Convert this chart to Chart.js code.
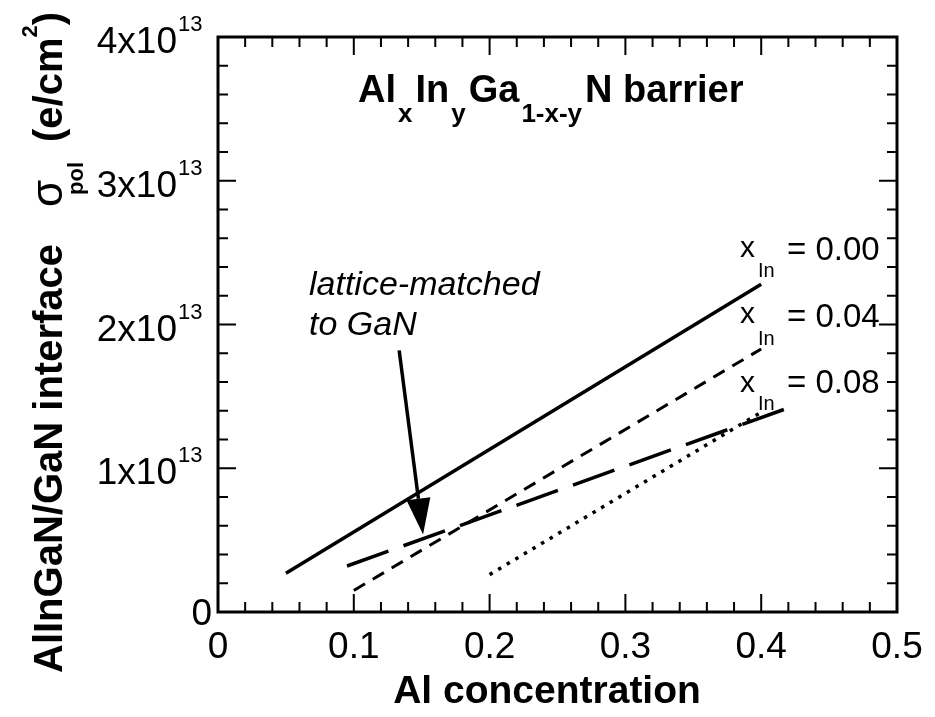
<!DOCTYPE html>
<html>
<head>
<meta charset="utf-8">
<script src="https://cdn.jsdelivr.net/npm/chart.js@4.4.0/dist/chart.umd.min.js"></script>
<style>
  body { margin: 0; background: #fff; }
</style>
</head>
<body>
<canvas id="polChart" width="935" height="717"></canvas>
<script>
// Al concentration / interface polarization charge
var alIn000 = [0.05, 0.40];
var sigmaIn000 = [0.27e13, 2.28e13];

var alIn004 = [0.10, 0.40];
var sigmaIn004 = [0.15e13, 1.83e13];

var alIn008 = [0.20, 0.40];
var sigmaIn008 = [0.26e13, 1.39e13];

var alLattice = [0.095, 0.42];
var sigmaLattice = [0.32e13, 1.42e13];

var xTickVals = [0, 0.1, 0.2, 0.3, 0.4, 0.5];
var xTickLabels = ['0', '0.1', '0.2', '0.3', '0.4', '0.5'];
var yTickVals = [0, 1e13, 2e13, 3e13, 4e13];
var yTickLabels = ['0', '1', '2', '3', '4'];

var FONT = '"Liberation Sans", Arial, Helvetica, sans-serif';

function pts(xs, ys) {
    return xs.map(function(x, i) { return {x: x, y: ys[i]}; });
}

// draw a row of text pieces one after another (sub/superscripts)
function drawRuns(ctx, x, y, runs) {
    runs.forEach(function(r) {
        x += r.gap || 0;
        ctx.font = r.font;
        ctx.fillText(r.t, x, y + (r.dy || 0));
        x += ctx.measureText(r.t).width;
    });
}

var framePlugin = {
    id: 'frame',
    afterDraw: function(chart) {
        var ctx = chart.ctx;
        var xs = chart.scales.x, ys = chart.scales.y;
        var a = chart.chartArea;
        ctx.save();
        ctx.strokeStyle = '#000';
        ctx.fillStyle = '#000';

        // ticks on all four sides, pointing in
        ctx.lineWidth = 2;
        ctx.beginPath();
        for (var i = 1; i < 25; i++) {
            var px = xs.getPixelForValue(i * 0.02);
            var len = i % 5 === 0 ? 18 : 10;
            ctx.moveTo(px, a.bottom); ctx.lineTo(px, a.bottom - len);
            ctx.moveTo(px, a.top); ctx.lineTo(px, a.top + len);
        }
        for (var j = 1; j < 20; j++) {
            var py = ys.getPixelForValue(j * 0.2e13);
            var l2 = j % 5 === 0 ? 18 : 10;
            ctx.moveTo(a.left, py); ctx.lineTo(a.left + l2, py);
            ctx.moveTo(a.right, py); ctx.lineTo(a.right - l2, py);
        }
        ctx.stroke();

        ctx.lineWidth = 3;
        ctx.strokeRect(a.left, a.top, a.right - a.left, a.bottom - a.top);

        // x tick labels
        ctx.font = '37px ' + FONT;
        ctx.textAlign = 'center';
        ctx.textBaseline = 'alphabetic';
        xTickVals.forEach(function(v, k) {
            ctx.fillText(xTickLabels[k], xs.getPixelForValue(v), 658);
        });

        // y tick labels  (n x10^13)
        yTickVals.forEach(function(v, k) {
            var py = ys.getPixelForValue(v);
            if (v === 0) {
                ctx.font = '37px ' + FONT;
                ctx.textAlign = 'right';
                ctx.fillText('0', a.left - 6, py + 13);
                return;
            }
            ctx.font = '37px ' + FONT;
            ctx.textAlign = 'right';
            ctx.fillText(yTickLabels[k] + 'x10', a.left - 41, py + 16);
            ctx.font = '22px ' + FONT;
            ctx.textAlign = 'left';
            ctx.fillText('13', a.left - 40, py - 6);
        });

        // axis titles
        ctx.textAlign = 'center';
        ctx.font = 'bold 39px ' + FONT;
        ctx.fillText('Al concentration', 547, 703);

        ctx.save();
        ctx.translate(62, 673);
        ctx.rotate(-Math.PI / 2);
        ctx.textAlign = 'left';
        ctx.font = 'bold 40px ' + FONT;
        ctx.fillText('AlInGaN/GaN interface', 0, 0);
        ctx.font = '44px ' + FONT;
        ctx.fillText('\u03c3', 466, 0);
        ctx.font = 'bold 22px ' + FONT;
        ctx.fillText('pol', 478, 21);
        drawRuns(ctx, 531, 0, [
            {t: '(e/cm', font: 'bold 40px ' + FONT},
            {t: '2', font: 'bold 22px ' + FONT, dy: -25},
            {t: ')', font: 'bold 40px ' + FONT}
        ]);
        ctx.restore();

        // title
        ctx.textAlign = 'left';
        var B = 'bold 38px ' + FONT, S = 'bold 26px ' + FONT;
        drawRuns(ctx, 358, 102, [
            {t: 'Al', font: B},
            {t: 'x', font: S, dy: 20, gap: 2},
            {t: 'In', font: B, gap: 3},
            {t: 'y', font: S, dy: 20, gap: 2},
            {t: 'Ga', font: B, gap: 3},
            {t: '1-x-y', font: S, dy: 20, gap: 2},
            {t: 'N barrier', font: B, gap: 3}
        ]);

        // x_In labels
        [['0.00', 257, 277, 260], ['0.04', 323, 345, 327], ['0.08', 392, 410, 393]].forEach(function(r) {
            ctx.font = '30px ' + FONT;
            ctx.fillText('x', 740, r[1]);
            ctx.font = '20px ' + FONT;
            ctx.fillText('In', 758, r[2]);
            ctx.font = '33px ' + FONT;
            ctx.fillText('= ' + r[0], 787, r[3]);
        });

        // lattice-matched note and arrow
        ctx.font = 'italic 34px ' + FONT;
        ctx.fillText('lattice-matched', 309, 295);
        ctx.fillText('to GaN', 309, 335);

        var x0 = xs.getPixelForValue(0.1334), y0 = ys.getPixelForValue(1.82e13);
        var x1 = xs.getPixelForValue(0.1510), y1 = ys.getPixelForValue(0.54e13);
        var ang = Math.atan2(y1 - y0, x1 - x0);
        var hl = 36, hw = 12;
        var bx = x1 - hl * Math.cos(ang), by = y1 - hl * Math.sin(ang);
        ctx.lineWidth = 3.5;
        ctx.beginPath();
        ctx.moveTo(x0, y0);
        ctx.lineTo(bx, by);
        ctx.stroke();
        ctx.beginPath();
        ctx.moveTo(x1, y1);
        ctx.lineTo(bx - hw * Math.sin(ang), by + hw * Math.cos(ang));
        ctx.lineTo(bx + hw * Math.sin(ang), by - hw * Math.cos(ang));
        ctx.closePath();
        ctx.fill();

        ctx.restore();
    }
};

var ctx = document.getElementById('polChart').getContext('2d');
var polChart = new Chart(ctx, {
    type: 'scatter',
    data: {
        datasets: [
            {label: 'x_In = 0.00', data: pts(alIn000, sigmaIn000), borderWidth: 3.5},
            {label: 'x_In = 0.04', data: pts(alIn004, sigmaIn004), borderWidth: 3, borderDash: [13, 9]},
            {label: 'x_In = 0.08', data: pts(alIn008, sigmaIn008), borderWidth: 3.5, borderDash: [3.5, 6.5]},
            {label: 'lattice-matched', data: pts(alLattice, sigmaLattice), borderWidth: 3.5, borderDash: [44, 16]}
        ]
    },
    options: {
        responsive: false,
        animation: false,
        showLine: true,
        layout: {padding: {left: 218, right: 38, top: 37, bottom: 105}},
        elements: {
            point: {radius: 0, hoverRadius: 0},
            line: {borderColor: '#000', tension: 0, borderCapStyle: 'butt'}
        },
        plugins: {legend: {display: false}, tooltip: {enabled: false}},
        scales: {
            x: {
                type: 'linear', min: 0, max: 0.5,
                grid: {display: false, drawTicks: false},
                border: {display: false},
                ticks: {display: false}
            },
            y: {
                type: 'linear', min: 0, max: 4e13,
                grid: {display: false, drawTicks: false},
                border: {display: false},
                ticks: {display: false}
            }
        }
    },
    plugins: [framePlugin]
});
</script>
</body>
</html>
